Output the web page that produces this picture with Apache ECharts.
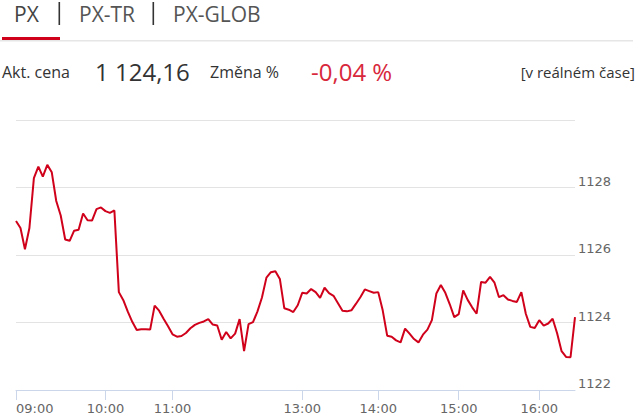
<!DOCTYPE html>
<html>
<head>
<meta charset="utf-8">
<script src="https://cdn.jsdelivr.net/npm/echarts@6/dist/echarts.min.js"></script>
<style>
html,body{margin:0;padding:0;background:#fff;}
#chart{width:640px;height:420px;}
</style>
</head>
<body>
<div id="chart"></div>
<script>
// ---- data ----
var tabs = ['PX', 'PX-TR', 'PX-GLOB'];
var priceLabel = 'Akt. cena';
var priceValue = '1 124,16';
var changeLabel = 'Změna %';
var changeValue = '-0,04 %';
var realtimeLabel = '[v reálném čase]';

var times = [
 '09:00','09:03','09:06','09:09','09:12','09:15','09:18','09:21','09:24','09:27',
 '09:30','09:33','09:36','09:39','09:42','09:45','09:48','09:51','09:54','09:57',
 '10:00','10:04','10:08','10:12','10:16','10:20','10:24','10:28','10:32','10:36',
 '10:40','10:44','10:48','10:52','10:56',
 '11:00','11:04','11:08','11:12','11:17','11:21','11:25','11:29','11:33','11:37',
 '11:41','11:46','11:50','11:54','11:58','12:02','12:06','12:10','12:14','12:19',
 '12:23','12:27','12:31','12:35','12:39','12:43','12:48','12:52','12:56',
 '13:00','13:04','13:07','13:11','13:14','13:18','13:21','13:25','13:28','13:32',
 '13:35','13:39','13:42','13:46','13:49','13:53','13:56',
 '14:00','14:03','14:07','14:10','14:13','14:17','14:20','14:23','14:27','14:30',
 '14:33','14:37','14:40','14:43','14:47','14:50','14:53','14:57',
 '15:00','15:03','15:07','15:10','15:13','15:17','15:20','15:23','15:27','15:30',
 '15:33','15:37','15:40','15:43','15:47','15:50','15:53','15:57',
 '16:00','16:03','16:05','16:08','16:10','16:13','16:15','16:18','16:20'
];

var pxValues = [
 1127.01,1126.80,1126.17,1126.80,1128.28,1128.62,1128.32,1128.67,1128.45,1127.60,
 1127.17,1126.46,1126.42,1126.72,1126.75,1127.23,1127.03,1127.02,1127.36,1127.41,
 1127.30,1127.25,1127.32,1124.90,1124.66,1124.32,1124.02,1123.78,1123.80,1123.80,
 1123.79,1124.50,1124.35,1124.11,1123.89,
 1123.65,1123.58,1123.60,1123.69,1123.83,1123.93,1123.99,1124.03,1124.10,1123.94,
 1123.91,1123.49,1123.72,1123.53,1123.67,1124.10,1123.15,1123.95,1124.01,1124.33,
 1124.74,1125.33,1125.49,1125.52,1125.29,1124.42,1124.38,1124.31,1124.51,
 1124.88,1124.86,1124.99,1124.90,1124.73,1125.03,1124.87,1124.79,1124.57,1124.35,
 1124.33,1124.36,1124.55,1124.75,1124.98,1124.93,1124.88,
 1124.90,1124.36,1123.61,1123.58,1123.47,1123.41,1123.82,1123.67,1123.51,1123.41,
 1123.64,1123.79,1124.07,1124.86,1125.11,1124.88,1124.54,1124.16,
 1124.25,1124.95,1124.67,1124.45,1124.26,1125.20,1125.18,1125.35,1125.18,1124.75,
 1124.81,1124.68,1124.64,1124.61,1124.90,1124.26,1123.87,1123.84,
 1124.07,1123.91,1123.97,1124.11,1123.68,1123.15,1122.98,1122.97,1124.16
];

var xTickLabels = ['09:00','10:00','11:00','13:00','14:00','15:00','16:00'];
var yMin = 1122, yMax = 1130, yStep = 2;

// ---- chart ----
var chart = echarts.init(document.getElementById('chart'), null, {renderer: 'svg'});
var FONT = '"Open Sans", "Noto Sans", sans-serif';
var AXFONT = '"DejaVu Sans", Verdana, sans-serif';
var RED = '#d0021b';

function isTick(idx, val) { return xTickLabels.indexOf(val) >= 0; }

var graphics = [
  {type: 'rect', shape: {x: 0, y: 40, width: 633, height: 1.5}, style: {fill: '#e6e6e6'}, silent: true},
  {type: 'rect', shape: {x: 2, y: 37, width: 58, height: 3}, style: {fill: RED}, silent: true},
  {type: 'text', x: 14, y: 14, style: {text: tabs[0], font: '21px ' + FONT, fill: '#444', verticalAlign: 'middle'}},
  {type: 'rect', shape: {x: 58.5, y: 2, width: 1.6, height: 23}, style: {fill: '#333'}, silent: true},
  {type: 'text', x: 79, y: 14, style: {text: tabs[1], font: '21px ' + FONT, fill: '#555', verticalAlign: 'middle'}},
  {type: 'rect', shape: {x: 152.5, y: 2, width: 1.6, height: 23}, style: {fill: '#333'}, silent: true},
  {type: 'text', x: 173, y: 14, style: {text: tabs[2], font: '21px ' + FONT, fill: '#555', verticalAlign: 'middle'}},
  {type: 'text', x: 2, y: 72, style: {text: priceLabel, font: '16px ' + FONT, fill: '#333', verticalAlign: 'middle'}},
  {type: 'text', x: 95, y: 71, style: {text: priceValue, font: '24px ' + FONT, fill: '#333', verticalAlign: 'middle'}},
  {type: 'text', x: 210, y: 72, style: {text: changeLabel, font: '16px ' + FONT, fill: '#333', verticalAlign: 'middle'}},
  {type: 'text', x: 311, y: 71, style: {text: changeValue, font: '24px ' + FONT, fill: '#d8283c', verticalAlign: 'middle'}},
  {type: 'text', x: 635, y: 72, style: {text: realtimeLabel, font: '15px ' + FONT, fill: '#333', align: 'right', verticalAlign: 'middle'}}
];

chart.setOption({
  animation: false,
  backgroundColor: '#fff',
  graphic: graphics,
  grid: {left: 16, right: 65, top: 120, bottom: 30, containLabel: false, outerBoundsMode: 'none'},
  xAxis: {
    type: 'category',
    data: times,
    boundaryGap: false,
    axisLine: {show: true, lineStyle: {color: '#ccd6eb', width: 1}},
    axisTick: {show: true, length: 10, interval: isTick, lineStyle: {color: '#ccd6eb'}},
    axisLabel: {
      interval: isTick, color: '#666', fontFamily: AXFONT, fontSize: 13, margin: 12,
      alignMinLabel: 'left', hideOverlap: false
    },
    splitLine: {show: false}
  },
  yAxis: {
    type: 'value',
    position: 'right',
    min: yMin, max: yMax, interval: yStep,
    axisLine: {show: false},
    axisTick: {show: false},
    axisLabel: {
      color: '#666', fontFamily: AXFONT, fontSize: 13, margin: 3,
      verticalAlign: 'bottom', showMaxLabel: false, showMinLabel: true,
      formatter: function (v) { return String(v); }
    },
    splitLine: {show: true, lineStyle: {color: '#e3e3e3', width: 1}}
  },
  series: [{
    type: 'line',
    data: pxValues,
    showSymbol: false,
    symbol: 'none',
    lineStyle: {color: RED, width: 2},
    itemStyle: {color: RED}
  }]
});
</script>
</body>
</html>
